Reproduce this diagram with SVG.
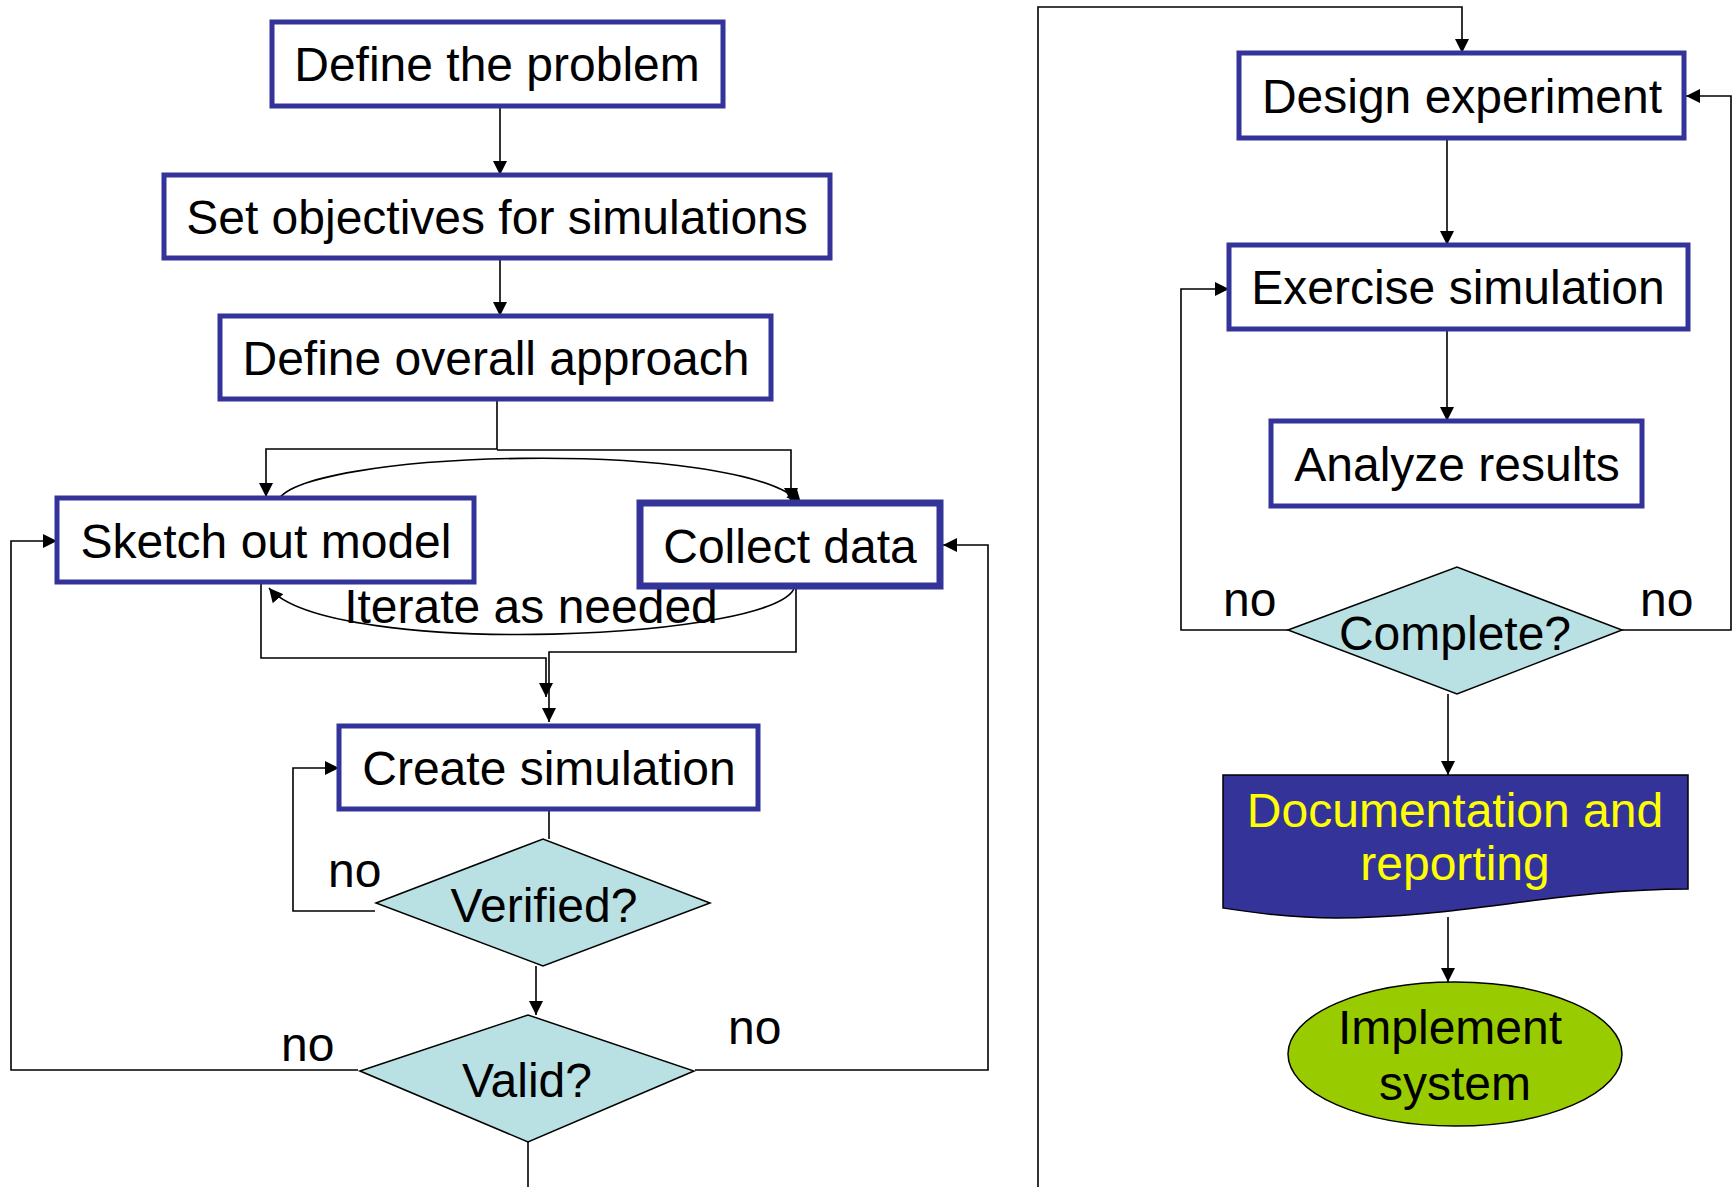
<svg xmlns="http://www.w3.org/2000/svg" width="1733" height="1187" viewBox="0 0 1733 1187">
<style>
  .box { fill: #ffffff; stroke: #333399; stroke-width: 5; }
  .thick { stroke-width: 7; }
  .dia { fill: #B9E0E3; stroke: #000000; stroke-width: 1.5; }
  .t { font-family: "Liberation Sans", Arial, sans-serif; font-size: 48px; fill: #000000; text-anchor: middle; }
  .lbl { font-family: "Liberation Sans", Arial, sans-serif; font-size: 48px; fill: #000000; }
  .ln { fill: none; stroke: #000000; stroke-width: 1.6; }
  .arr { marker-end: url(#ah); }
</style>
<defs>
  <marker id="ah" viewBox="0 0 10 10" refX="10" refY="5" markerWidth="10" markerHeight="10" markerUnits="userSpaceOnUse" orient="auto">
    <path d="M0,0 L10,5 L0,10 Z" fill="#000000"/>
  </marker>
  <marker id="ahb" viewBox="0 0 10 10" refX="10" refY="5" markerWidth="14" markerHeight="14" markerUnits="userSpaceOnUse" orient="auto">
    <path d="M0,0 L10,5 L0,10 Z" fill="#000000"/>
  </marker>
</defs>
<rect width="1733" height="1187" fill="#ffffff"/>

<g id="connectors">
  <path class="ln" d="M500,106 V175" marker-end="url(#ahb)"/>
  <path class="ln" d="M500,258 V316" marker-end="url(#ahb)"/>
  <path class="ln" d="M497,399 V449 H266 V497" marker-end="url(#ahb)"/>
  <path class="ln" d="M497,450 H791 V502" marker-end="url(#ahb)"/>
  <path class="ln" d="M277,503 C290,450 740,437 801,503" marker-end="url(#ahb)"/>
  <path class="ln" d="M795,585 C790,640 330,660 269,588" marker-end="url(#ahb)"/>
  <path class="ln" d="M261,582 V658 H546 V697" marker-end="url(#ahb)"/>
  <path class="ln" d="M796,583 V652 H549 V722" marker-end="url(#ahb)"/>
  <path class="ln" d="M549,809 V839"/>
  <path class="ln" d="M375,911 H293 V768 H339" marker-end="url(#ahb)"/>
  <path class="ln" d="M536,966 V1015" marker-end="url(#ahb)"/>
  <path class="ln" d="M358,1070 H11 V541 H57" marker-end="url(#ahb)"/>
  <path class="ln" d="M695,1070 H988 V545 H943" marker-end="url(#ahb)"/>
  <path class="ln" d="M528,1142 V1187"/>
  <path class="ln" d="M1038,1187 V7 H1462 V53" marker-end="url(#ahb)"/>
  <path class="ln" d="M1447,138 V245" marker-end="url(#ahb)"/>
  <path class="ln" d="M1447,329 V421" marker-end="url(#ahb)"/>
  <path class="ln" d="M1288,630 H1181 V289 H1229" marker-end="url(#ahb)"/>
  <path class="ln" d="M1622,630 H1731 V96 H1686" marker-end="url(#ahb)"/>
  <path class="ln" d="M1448,694 V775" marker-end="url(#ahb)"/>
  <path class="ln" d="M1448,917 V982" marker-end="url(#ahb)"/>
  <text class="t" x="531" y="623">Iterate as needed</text>
  <text class="lbl" x="328" y="887">no</text>
  <text class="lbl" x="281" y="1061">no</text>
  <text class="lbl" x="728" y="1044">no</text>
  <text class="lbl" x="1223" y="616">no</text>
  <text class="lbl" x="1640" y="616">no</text>
</g>

<g id="define-problem">
  <rect class="box" x="272" y="22" width="451" height="84"/>
  <text class="t" x="497" y="81">Define the problem</text>
</g>
<g id="set-objectives">
  <rect class="box" x="164" y="175" width="666" height="83"/>
  <text class="t" x="497" y="234">Set objectives for simulations</text>
</g>
<g id="define-approach">
  <rect class="box" x="220" y="316" width="551" height="83"/>
  <text class="t" x="496" y="375">Define overall approach</text>
</g>
<g id="sketch-model">
  <rect class="box" x="57" y="498" width="417" height="84"/>
  <text class="t" x="266" y="558">Sketch out model</text>
</g>
<g id="collect-data">
  <rect class="box thick" x="640" y="503" width="300" height="83"/>
  <text class="t" x="790" y="563">Collect data</text>
</g>
<g id="create-simulation">
  <rect class="box" x="339" y="726" width="419" height="83"/>
  <text class="t" x="549" y="785">Create simulation</text>
</g>
<g id="verified">
  <polygon class="dia" points="376,903 543,839 710,903 543,966"/>
  <text class="t" x="544" y="922">Verified?</text>
</g>
<g id="valid">
  <polygon class="dia" points="360,1071 528,1015 694,1071 528,1142"/>
  <text class="t" x="527" y="1097">Valid?</text>
</g>
<g id="design-experiment">
  <rect class="box" x="1239" y="53" width="445" height="85"/>
  <text class="t" x="1462" y="113">Design experiment</text>
</g>
<g id="exercise-simulation">
  <rect class="box" x="1229" y="245" width="459" height="84"/>
  <text class="t" x="1458" y="304">Exercise simulation</text>
</g>
<g id="analyze-results">
  <rect class="box" x="1271" y="421" width="371" height="85"/>
  <text class="t" x="1457" y="481">Analyze results</text>
</g>
<g id="complete">
  <polygon class="dia" points="1288,630 1457,567 1622,630 1457,694"/>
  <text class="t" x="1455" y="650">Complete?</text>
</g>
<g id="documentation">
  <path d="M1223,775 H1688 V889 C1560,889 1460,918 1336,918 C1290,918 1250,912 1223,908 Z" fill="#333399" stroke="#000000" stroke-width="1.5"/>
  <text class="t" x="1455" y="827" style="fill:#FFFF00">Documentation and</text>
  <text class="t" x="1455" y="880" style="fill:#FFFF00">reporting</text>
</g>
<g id="implement-system">
  <ellipse cx="1455" cy="1054" rx="167" ry="72" fill="#99CC00" stroke="#000000" stroke-width="1.5"/>
  <text class="t" x="1450" y="1044">Implement</text>
  <text class="t" x="1455" y="1100">system</text>
</g>
</svg>
